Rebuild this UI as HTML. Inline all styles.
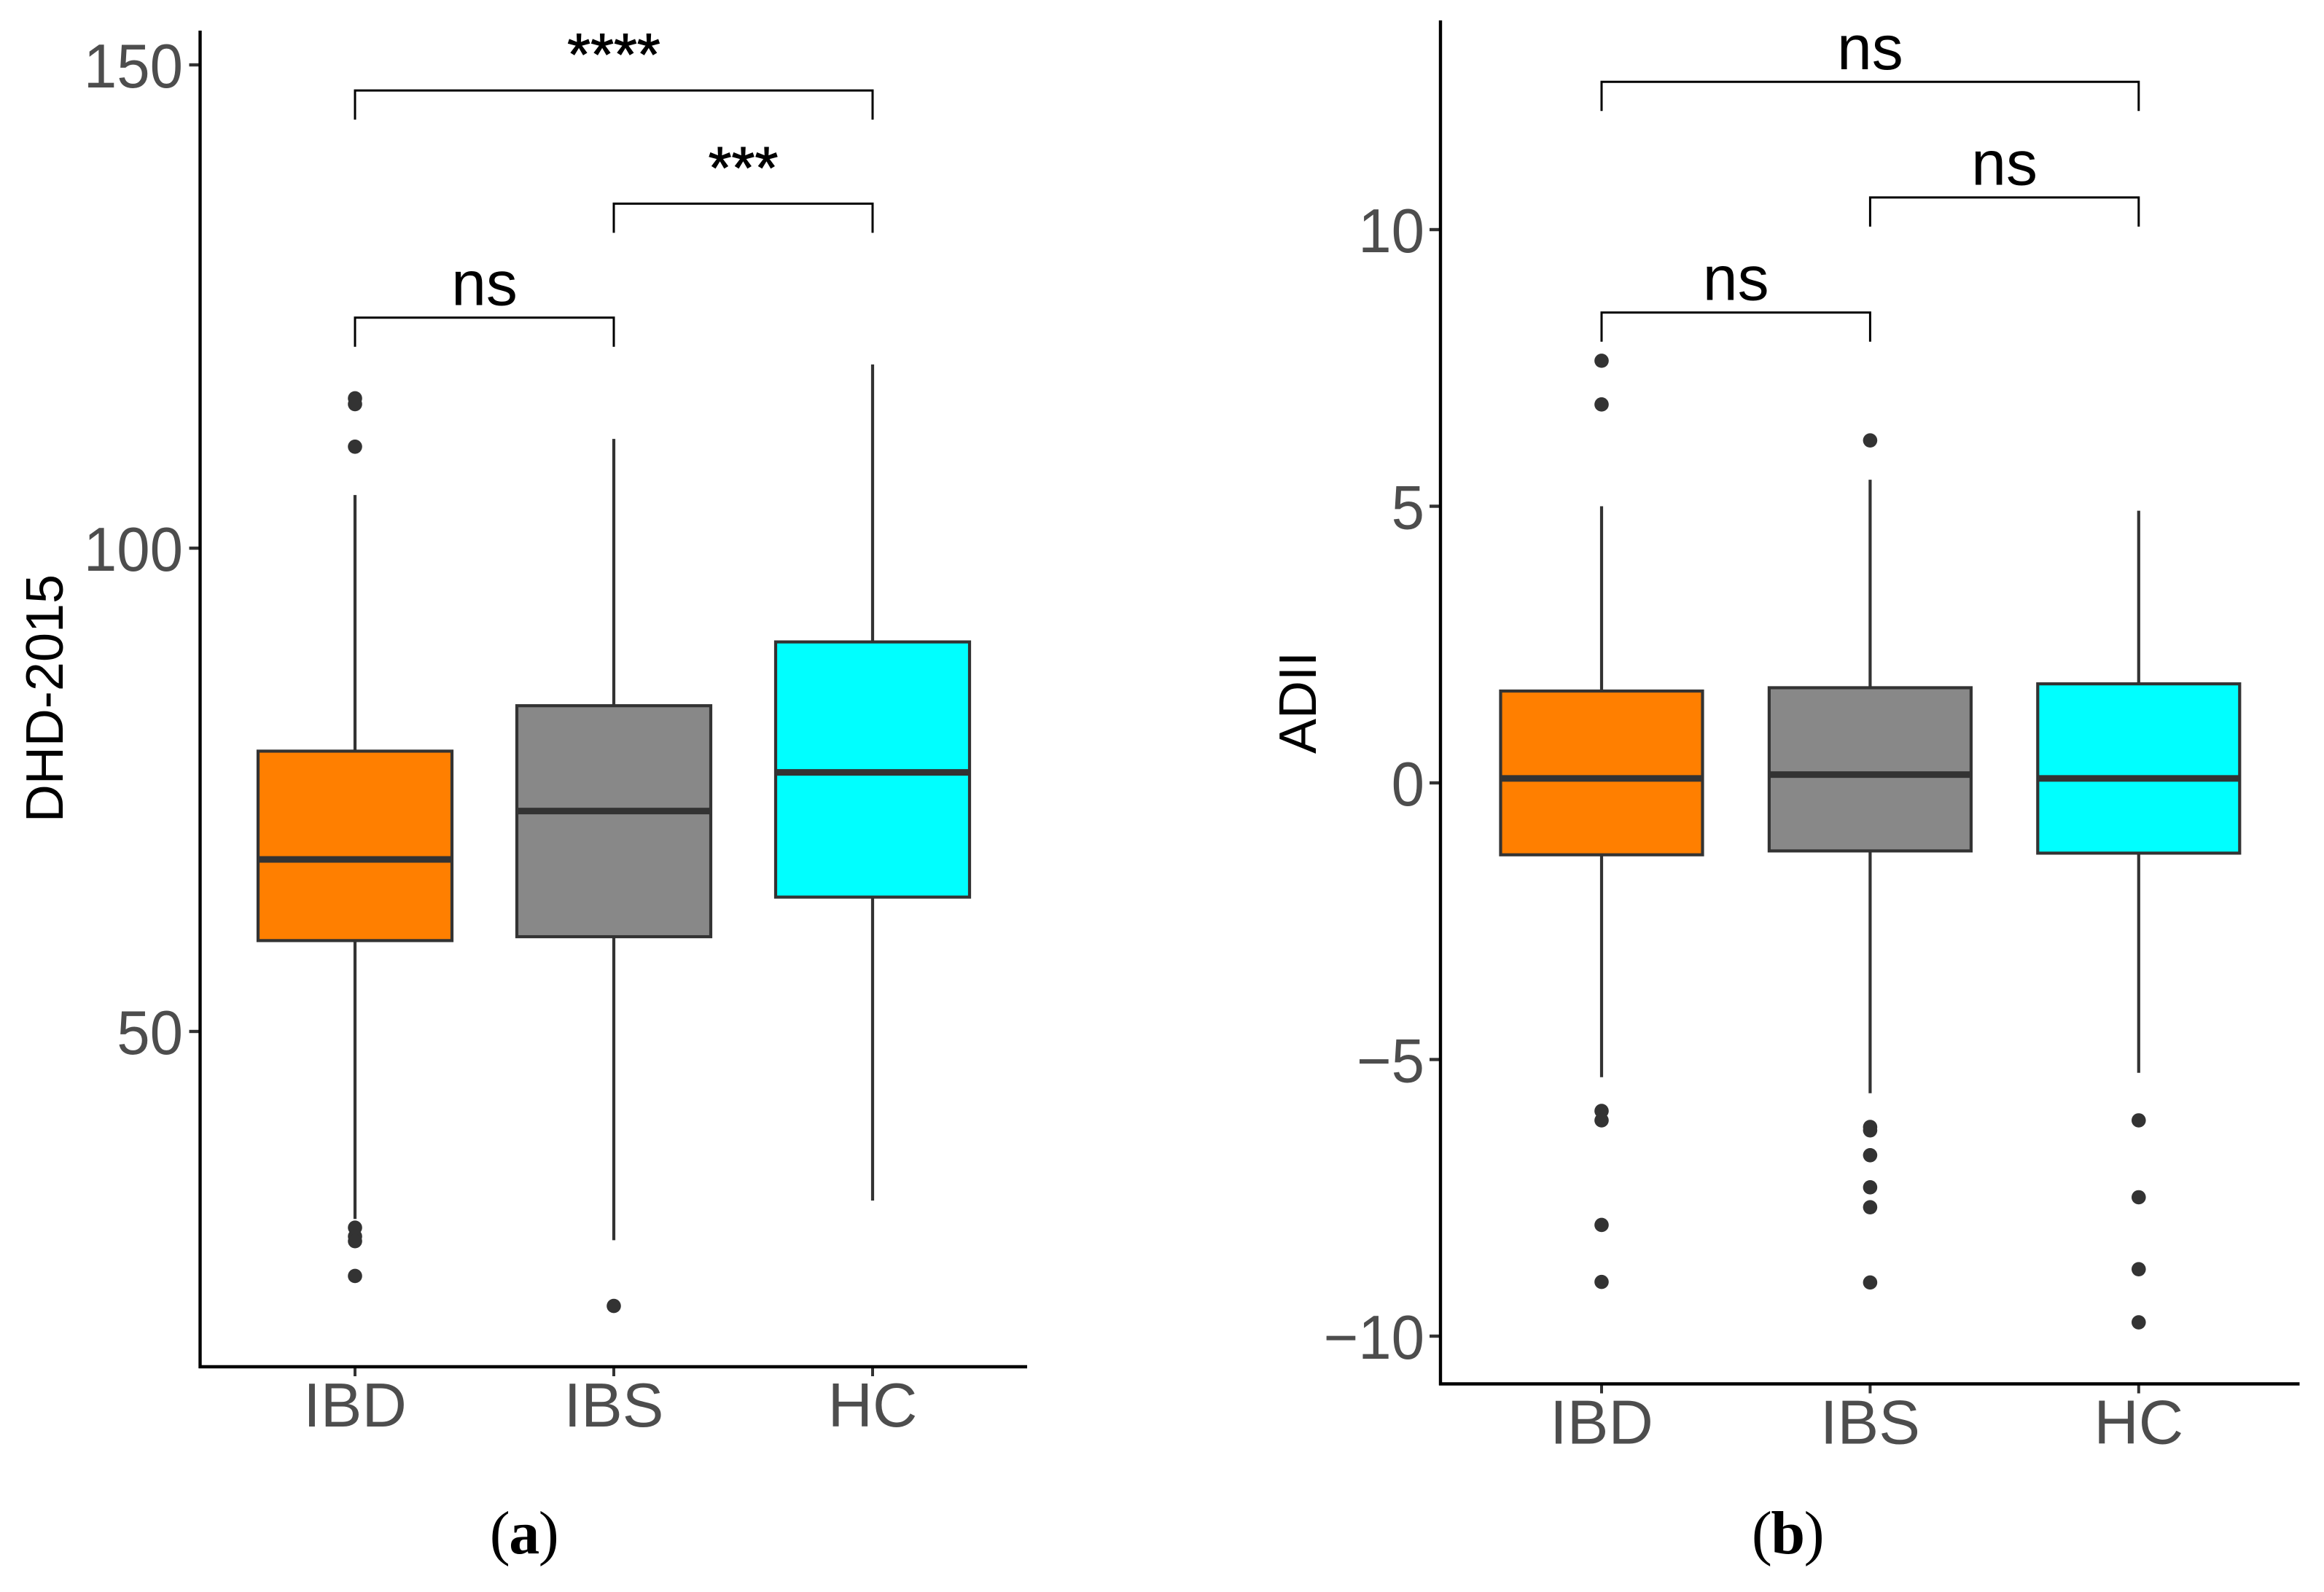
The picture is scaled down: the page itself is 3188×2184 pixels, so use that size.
<!DOCTYPE html>
<html lang="en">
<head>
<meta charset="utf-8">
<title>DHD-2015 and ADII box plots</title>
<style>
html,body{margin:0;padding:0;background:#fff;}
svg{display:block;}
text{font-family:"Liberation Sans",Arial,sans-serif;}
.tick-label{font-size:85px;fill:#4d4d4d;}
.axis-title{font-size:72px;fill:#000;}
.sig{font-size:86px;fill:#000;text-anchor:middle;}
.stars{font-size:82px;stroke:#000;stroke-width:1px;}
.caption{font-family:"Liberation Serif",serif;font-size:84px;fill:#000;text-anchor:middle;letter-spacing:-1.5px;}
</style>
</head>
<body>
<svg id="figure" xmlns="http://www.w3.org/2000/svg" width="3188" height="2184" viewBox="0 0 3188 2184">
  <rect width="3188" height="2184" fill="#fff"/>
  <g id="panel-a"></g>
  <g id="panel-b"></g>
  <text class="axis-title" text-anchor="middle" transform="translate(86,958) rotate(-90)">DHD-2015</text>
  <text class="axis-title" text-anchor="middle" transform="translate(1805,964) rotate(-90)">ADII</text>
  <text class="caption" x="718.5" y="2131">(<tspan font-weight="bold">a</tspan>)</text>
  <text class="caption" x="2452" y="2131">(<tspan font-weight="bold">b</tspan>)</text>
</svg>
<script>
const categories = ['IBD', 'IBS', 'HC'];

const aTicks = [50, 100, 150];
const aTickLabels = ['50', '100', '150'];
const aQ1 = [59.4, 59.8, 63.9];
const aMedian = [67.8, 72.8, 76.8];
const aQ3 = [79.0, 83.7, 90.3];
const aWhiskerLow = [30.6, 28.4, 32.5];
const aWhiskerHigh = [105.5, 111.3, 119.0];
const aOutliersIBD = [115.5, 114.9, 110.5, 29.7, 28.8, 28.3, 24.7];
const aOutliersIBS = [21.6];
const aOutliersHC = [];
const aBracketLevel = [123.9, 135.7, 147.4];
const aBracketFrom = [0, 1, 0];
const aBracketTo = [1, 2, 2];
const aBracketLabels = ['ns', '***', '****'];

const bTicks = [-10, -5, 0, 5, 10];
const bTickLabels = ['\u221210', '\u22125', '0', '5', '10'];
const bQ1 = [-1.30, -1.23, -1.27];
const bMedian = [0.08, 0.15, 0.08];
const bQ3 = [1.66, 1.72, 1.79];
const bWhiskerLow = [-5.32, -5.61, -5.24];
const bWhiskerHigh = [5.0, 5.48, 4.92];
const bOutliersIBD = [7.63, 6.84, -5.93, -6.10, -7.99, -9.02];
const bOutliersIBS = [6.19, -6.22, -6.28, -6.73, -7.31, -7.67, -9.03];
const bOutliersHC = [-6.10, -7.49, -8.79, -9.75];
const bBracketLevel = [8.51, 10.59, 12.68];
const bBracketFrom = [0, 1, 0];
const bBracketTo = [1, 2, 2];
const bBracketLabels = ['ns', 'ns', 'ns'];

const boxFills = ['#ff7f00', '#888888', '#00ffff'];
const SVG_NS = 'http://www.w3.org/2000/svg';

function yA(v) { return 1415 - (v - 50) * 13.26; }
function xA(i) { return 487 + i * 355; }
function yB(v) { return 1074 - v * 75.9; }
function xB(i) { return 2197 + i * 368.4; }

function shape(parent, tag, attrs) {
  const el = document.createElementNS(SVG_NS, tag);
  for (const k in attrs) el.setAttribute(k, attrs[k]);
  parent.appendChild(el);
  return el;
}

function slug(s) { return s.toLowerCase().replace(/[^a-z0-9]+/g, ''); }

function drawPanel(g, p) {
  p.ticks.forEach(function (t, i) {
    const mark = shape(g, 'line', { x1: p.axisX - 15, x2: p.axisX, y1: p.y(t), y2: p.y(t), stroke: '#333', 'stroke-width': 4.4 });
    
    
    const label = shape(g, 'text', { class: 'tick-label', transform: 'translate(' + p.tickLabelX + ',' + (p.y(t) + 31) + ') scale(0.96,1)', 'text-anchor': 'end' });
    label.textContent = p.tickLabels[i];
    
    
  });

  categories.forEach(function (c, i) {
    const x = p.x(i);
    const wh = shape(g, 'line', { x1: x, x2: x, y1: p.y(p.whiskerHigh[i]), y2: p.y(p.whiskerLow[i]), stroke: '#333', 'stroke-width': 4.2 });
    
    
    const top = p.y(p.q3[i]);
    const bot = p.y(p.q1[i]);
    const box = shape(g, 'rect', { x: x - p.half, y: top, width: p.half * 2, height: bot - top, fill: boxFills[i], stroke: '#333', 'stroke-width': 4.2 });
    
    
    const med = shape(g, 'line', { x1: x - p.half, x2: x + p.half, y1: p.y(p.median[i]), y2: p.y(p.median[i]), stroke: '#333', 'stroke-width': 9 });
    
    
    p.outliers[i].forEach(function (v) {
      const dot = shape(g, 'circle', { cx: x, cy: p.y(v), r: 9.8, fill: '#333' });
      
      
    });
    const xt = shape(g, 'line', { x1: x, x2: x, y1: p.axisY, y2: p.axisY + 13, stroke: '#333', 'stroke-width': 4 });
    
    
    const xl = shape(g, 'text', { class: 'tick-label', x: x, y: p.axisY + 82, 'text-anchor': 'middle' });
    xl.textContent = c;
    
    
  });

  p.bracketLevel.forEach(function (lvl, i) {
    const x1 = p.x(p.bracketFrom[i]);
    const x2 = p.x(p.bracketTo[i]);
    const y = p.y(lvl) + 0.7;
    const br = shape(g, 'path', { d: 'M' + x1 + ' ' + (y + 40) + 'V' + y + 'H' + x2 + 'V' + (y + 40), fill: 'none', stroke: '#000', 'stroke-width': 3 });
    
    
    const isStars = p.bracketLabels[i].charAt(0) === '*';
    const sig = shape(g, 'text', { class: isStars ? 'sig stars' : 'sig', x: (x1 + x2) / 2, y: isStars ? y - 21 : y - 17.5 });
    sig.textContent = p.bracketLabels[i];
    
    
  });

  const yAxis = shape(g, 'line', { x1: p.axisX, x2: p.axisX, y1: p.axisTop, y2: p.axisY + 2, stroke: '#000', 'stroke-width': 4.4 });
  
  
  const xAxis = shape(g, 'line', { x1: p.axisX - 2, x2: p.axisRight, y1: p.axisY, y2: p.axisY, stroke: '#000', 'stroke-width': 4.4 });
  
  
}

drawPanel(document.getElementById('panel-a'), {
  x: xA, y: yA, half: 133, axisX: 274.5, axisY: 1875, axisTop: 42, axisRight: 1409, tickLabelX: 251,
  ticks: aTicks, tickLabels: aTickLabels, q1: aQ1, median: aMedian, q3: aQ3,
  whiskerLow: aWhiskerLow, whiskerHigh: aWhiskerHigh,
  outliers: [aOutliersIBD, aOutliersIBS, aOutliersHC],
  bracketLevel: aBracketLevel, bracketFrom: aBracketFrom, bracketTo: aBracketTo, bracketLabels: aBracketLabels
});

drawPanel(document.getElementById('panel-b'), {
  x: xB, y: yB, half: 138.5, axisX: 1976, axisY: 1898.5, axisTop: 28, axisRight: 3154.5, tickLabelX: 1954,
  ticks: bTicks, tickLabels: bTickLabels, q1: bQ1, median: bMedian, q3: bQ3,
  whiskerLow: bWhiskerLow, whiskerHigh: bWhiskerHigh,
  outliers: [bOutliersIBD, bOutliersIBS, bOutliersHC],
  bracketLevel: bBracketLevel, bracketFrom: bBracketFrom, bracketTo: bBracketTo, bracketLabels: bBracketLabels
});
</script>
</body>
</html>
